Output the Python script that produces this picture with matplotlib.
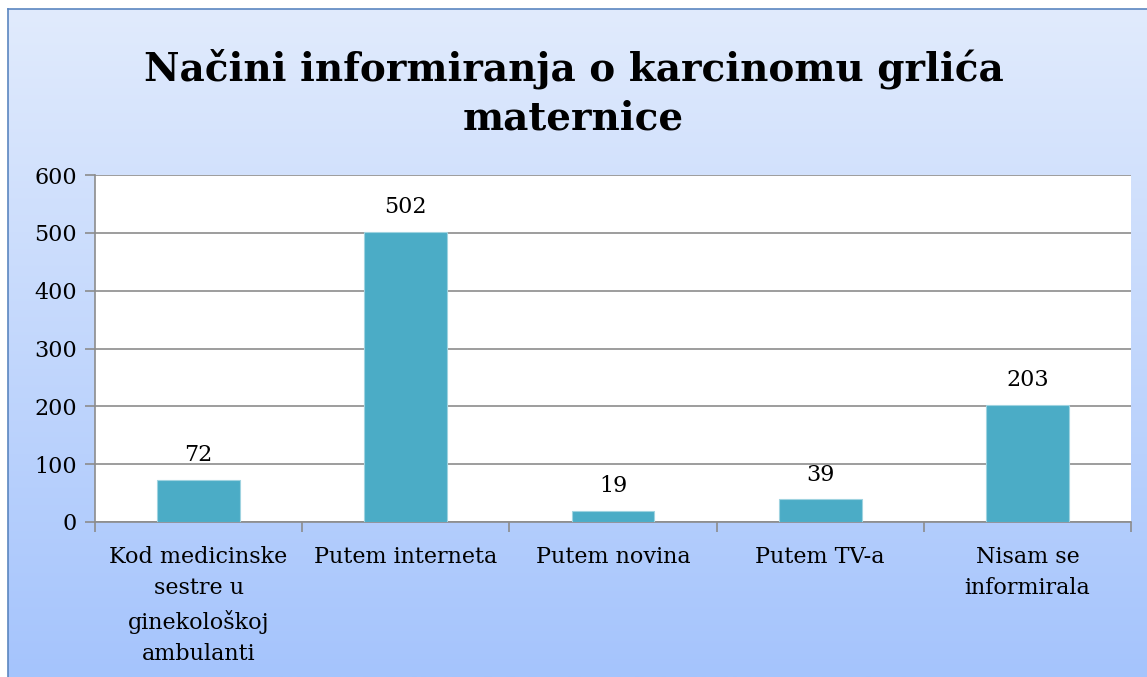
import numpy as np
import matplotlib.pyplot as plt

categories = ['Kod medicinske\nsestre u\nginekološkoj\nambulanti', 'Putem interneta',
              'Putem novina', 'Putem TV-a', 'Nisam se\ninformirala']
values = [72, 502, 19, 39, 203]
yticks = [0, 100, 200, 300, 400, 500, 600]
title = 'Načini informiranja o karcinomu grlića\nmaternice'

plt.rcParams['font.family'] = ['DejaVu Serif']

W, H = 1147, 677
fig = plt.figure(figsize=(W / 100, H / 100), dpi=100)

# gradient background with frame
bg = fig.add_axes([8 / W, 0, 1 - 8 / W, 1 - 9 / H])
grad = np.linspace(0, 1, 256).reshape(-1, 1)
top = np.array([225, 235, 253]) / 255
bot = np.array([165, 196, 252]) / 255
img = top + (bot - top) * grad[:, :, None]
bg.imshow(img, aspect='auto', extent=[0, 1, 0, 1], origin='upper')
bg.set_xlim(0, 1)
bg.set_ylim(0, 1)
bg.set_xticks([])
bg.set_yticks([])
for side in ['right', 'bottom']:
    bg.spines[side].set_visible(False)
for side in ['left', 'top']:
    bg.spines[side].set_color('#5b86c0')
    bg.spines[side].set_linewidth(1.2)

fig.text(0.5, 1 - 93 / H, title, ha='center', va='center', fontsize=28,
         fontweight='bold', linespacing=1.35)

ax = fig.add_axes([95 / W, 1 - 522 / H, (1131 - 95) / W, (522 - 175) / H])
ax.set_facecolor('white')
x = np.arange(len(categories))
ax.bar(x, values, width=0.4, color='#4bacc6', edgecolor='#9fd3e0',
       linewidth=0.8, zorder=3)
for xi, v in zip(x, values):
    ax.annotate(str(v), (xi, v), xytext=(0, 10), textcoords='offset points',
                ha='center', va='bottom', fontsize=16)

ax.set_xlim(-0.5, len(categories) - 0.5)
ax.set_ylim(0, 600)
ax.set_yticks(yticks)
ax.set_yticklabels([str(t) for t in yticks], fontsize=16)
ax.yaxis.grid(True, color='#8c8c8c', linewidth=1.2, zorder=0)
ax.set_axisbelow(True)
ax.tick_params(axis='y', length=7, width=1.2, color='#8c8c8c', pad=6)

ax.set_xticks(np.arange(len(categories) + 1) - 0.5)
ax.set_xticklabels([])
ax.tick_params(axis='x', length=7, width=1.2, color='#8c8c8c')
ax.set_xticks(x, minor=True)
ax.set_xticklabels(categories, minor=True, fontsize=16, linespacing=1.56, va='top')
ax.tick_params(axis='x', which='minor', length=0, pad=17)

for side in ['top', 'right']:
    ax.spines[side].set_visible(False)
for side in ['left', 'bottom']:
    ax.spines[side].set_color('#8c8c8c')
    ax.spines[side].set_linewidth(1.2)

fig.savefig('out.png', dpi=100)
